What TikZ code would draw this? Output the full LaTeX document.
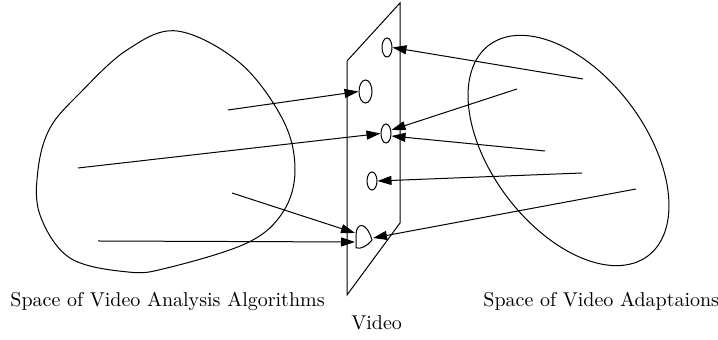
\documentclass[tikz,border=0pt]{standalone}
\usetikzlibrary{arrows.meta,shapes.geometric}
\tikzset{
  base/.style={line width=0.5pt},
  arr/.style={base,-{Triangle[length=7pt,width=4.5pt]}},
  spot/.style={draw,base,ellipse,inner sep=0pt},
  lbl/.style={anchor=base west,inner sep=0pt}
}
\begin{document}
\begin{tikzpicture}[x=0.5pt,y=-0.5pt]
\useasboundingbox (0,0) rectangle (718,340);
% left blob
\draw[base] plot[smooth cycle,tension=0.6] coordinates {(177,31) (240,63) (283,120) (295,170) (283,212) (247,243) (167,268) (128,272) (70,258) (40,215) (38,170) (50,128) (80,93) (127,50)};
% right ellipse
\draw[base] plot[domain=0:360,samples=120,smooth,variable=\t]
  ({568.5+132*cos(53)*cos(\t)-77*sin(53)*sin(\t)},{150.5+132*sin(53)*cos(\t)+77*cos(53)*sin(\t)});
% video plane
\coordinate (p1) at (400,3);
\coordinate (p2) at (400,223);
\coordinate (p3) at (347,295);
\coordinate (p4) at (347,61);
\draw[base] (p1) -- (p2) -- (p3) -- (p4) -- cycle;
% spots
\node[spot,minimum width=5pt,minimum height=9.5pt] (e1) at (387,47.5) {};
\node[spot,minimum width=6.5pt,minimum height=11.5pt] (e2) at (365.5,91.5) {};
\node[spot,minimum width=5pt,minimum height=9.5pt] (e3) at (386,133.5) {};
\node[spot,minimum width=5pt,minimum height=9pt] (e4) at (372,181) {};
\draw[base] (356,248) -- (356,235) .. controls (356,223) and (366,220) .. (372,240) .. controls (367,246) and (362,249) .. (356,248) -- cycle;
\coordinate (dc) at (355,233);
\coordinate (dd) at (355,242);
\coordinate (di) at (373,238);
% arrow starts
\coordinate (sa) at (228,110);
\coordinate (sb) at (78,168);
\coordinate (sc) at (232,193);
\coordinate (sd) at (98,241);
\coordinate (se) at (583,79);
\coordinate (sf) at (517,89);
\coordinate (sg) at (545,151);
\coordinate (sh) at (582,173);
\coordinate (si) at (636,189);
% arrows
\draw[arr] (sa) -- (e2.west);
\draw[arr] (sb) -- (e3.west);
\draw[arr] (sc) -- (dc);
\draw[arr] (sd) -- (dd);
\draw[arr] (se) -- (e1.east);
\draw[arr] (sf) -- ([yshift=1.75pt]e3.east);
\draw[arr] (sg) -- ([yshift=-1.25pt]e3.east);
\draw[arr] (sh) -- (e4.east);
\draw[arr] (si) -- (di);
% labels
\node[lbl] (tl) at (10,307) {Space of Video Analysis Algorithms};
\node[lbl] (tr) at (483,307) {Space of Video Adaptaions};
\node[lbl] (tv) at (351,330) {Video};
\end{tikzpicture}
\end{document}
